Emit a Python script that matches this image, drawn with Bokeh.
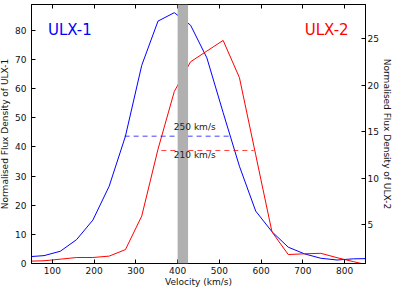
from bokeh.plotting import figure
from bokeh.models import (Range1d, LinearAxis, FixedTicker, BoxAnnotation, Label,
                          CustomLabelingPolicy)
from bokeh.embed import file_html
from bokeh.resources import INLINE

# ---- data ----
velocity = [41, 80, 119, 158, 197, 236, 275, 314, 353, 392, 431, 470, 509,
            548, 587, 626, 665, 704, 743, 782, 821, 860]
ulx1_flux = [2.3, 2.7, 4.2, 8.2, 14.9, 26.5, 43.7, 68.0, 83.2, 86.1, 81.8, 70.6,
             51.8, 33.4, 18.0, 10.9, 5.6, 3.3, 1.8, 1.2, 1.6, 1.7]
ulx2_flux = [1.05, 1.1, 1.27, 1.45, 1.45, 1.6, 2.3, 5.9, 13.1, 19.3, 22.5, 23.65,
             24.8, 20.8, 12.5, 4.2, 1.77, 1.85, 1.9, 1.43, 1.01, 0.59]
fwhm1_x = [273, 524]
fwhm1_y = [43.7, 43.7]
fwhm2_x = [361, 582]
fwhm2_y = [12.96, 12.96]
fwhm1_label = "250 km/s"
fwhm2_label = "210 km/s"
band = [400, 425]
x_ticks = [100, 200, 300, 400, 500, 600, 700, 800]
y1_ticks = [0, 10, 20, 30, 40, 50, 60, 70, 80]
y2_ticks = [5, 10, 15, 20, 25]

FONT = "DejaVu Sans"

p = figure(frame_width=334, frame_height=259, output_backend="svg",
           toolbar_location=None,
           x_range=Range1d(50, 850), y_range=Range1d(0, 88.9),
           min_border_left=34, min_border_right=20, min_border_top=6,
           min_border_bottom=20, margin=(-2, 0, 0, -3))
p.extra_y_ranges = {"r": Range1d(0.806, 28.66)}
p.xgrid.visible = False
p.ygrid.visible = False
p.outline_line_color = "black"
p.outline_line_width = 1
p.outline_line_alpha = 1
p.background_fill_color = "white"
p.border_fill_color = "white"


def style(ax):
    ax.major_tick_in = 4
    ax.major_tick_out = 0
    ax.minor_tick_in = 0
    ax.minor_tick_out = 0
    ax.axis_line_color = "black"
    ax.major_tick_line_color = "black"
    ax.major_label_text_font = FONT
    ax.major_label_text_font_size = "9px"
    ax.major_label_text_color = "#111111"
    ax.axis_label_text_font = FONT
    ax.axis_label_text_font_size = "9px"
    ax.axis_label_text_font_style = "normal"
    ax.axis_label_text_color = "#111111"


p.xaxis.ticker = FixedTicker(ticks=x_ticks)
p.xaxis.axis_label = "Velocity (km/s)"
style(p.xaxis[0])
p.xaxis.major_label_standoff = 3
p.xaxis.axis_label_standoff = 0

p.yaxis.ticker = FixedTicker(ticks=y1_ticks)
p.yaxis.axis_label = "Normalised Flux Density of ULX-1"
style(p.yaxis[0])
p.yaxis.major_label_standoff = 5
p.yaxis.axis_label_standoff = 2

right = LinearAxis(y_range_name="r", ticker=FixedTicker(ticks=y2_ticks),
                   axis_label="Normalised Flux Density of ULX-2")
style(right)
right.major_label_standoff = 2
right.axis_label_standoff = 0
p.add_layout(right, "right")

top = LinearAxis(ticker=FixedTicker(ticks=x_ticks),
                 major_label_policy=CustomLabelingPolicy(code="return []"))
style(top)
top.major_label_text_font_size = "0px"
top.major_label_standoff = 0
p.add_layout(top, "above")

p.line(velocity, ulx1_flux, line_color="#0000ff", line_width=1)
p.line(velocity, ulx2_flux, line_color="#ff0000", line_width=1, y_range_name="r")
p.line(fwhm1_x, fwhm1_y, line_color="#0000ff", line_width=1, line_alpha=0.75,
       line_dash="5 4")
p.line(fwhm2_x, fwhm2_y, line_color="#ff0000", line_width=1, line_alpha=0.75,
       line_dash="5 4", y_range_name="r")

p.add_layout(BoxAnnotation(left=band[0], right=band[1], fill_color="#b0b0b0",
                           fill_alpha=1, line_alpha=0))

p.add_layout(Label(x=441, y=46.7, text=fwhm1_label, text_font=FONT,
                   text_font_size="9px", text_color="#222222",
                   text_align="center", text_baseline="middle"))
p.add_layout(Label(x=441, y=37.1, text=fwhm2_label, text_font=FONT,
                   text_font_size="9px", text_color="#222222",
                   text_align="center", text_baseline="middle"))
p.add_layout(Label(x=142, y=80, text="ULX-1", text_font=FONT,
                   text_font_size="15px", text_color="#0000ff",
                   text_align="center", text_baseline="middle"))
p.add_layout(Label(x=757, y=80, text="ULX-2", text_font=FONT,
                   text_font_size="15px", text_color="#ff0000",
                   text_align="center", text_baseline="middle"))

open("out.html", "w").write(file_html(p, INLINE))
